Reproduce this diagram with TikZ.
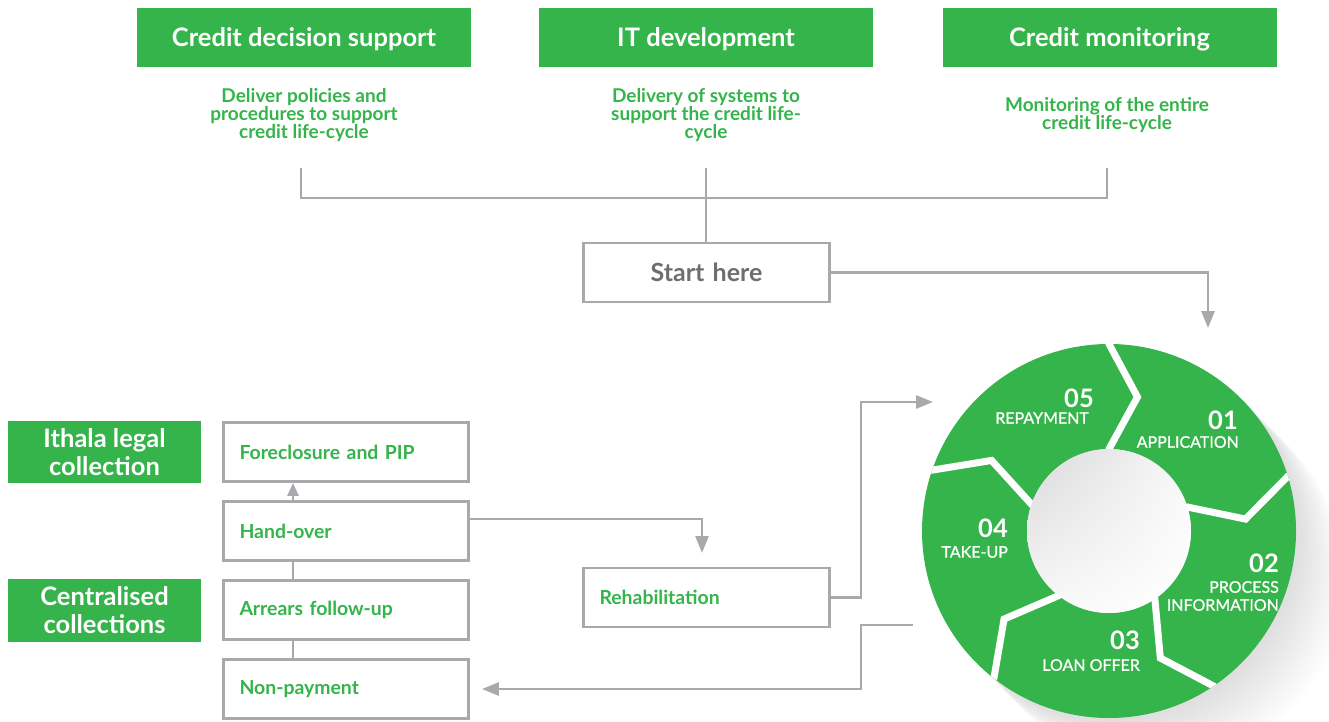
\documentclass[tikz,border=0pt]{standalone}
\usepackage{fontspec}
\setmainfont{Lato}
\newfontfamily\latomedium[FakeBold=0.8]{Lato}
\usetikzlibrary{arrows.meta,calc,shadings}
\definecolor{ithgreen}{RGB}{52,180,74}
\definecolor{linegray}{RGB}{167,169,172}
\definecolor{textgray}{RGB}{109,110,113}

\begin{document}
\begin{tikzpicture}[x=1pt,y=-1pt,
  greenbox/.style={fill=ithgreen, text=white, inner sep=0pt, align=center,
    font=\bfseries\fontsize{25.5}{28}\selectfont},
  headbox/.style={greenbox, minimum width=334pt, minimum height=59pt, text depth=0pt},
  sidebox/.style={greenbox, minimum width=193pt, minimum height=62pt},
  subtext/.style={text=ithgreen, align=center, inner sep=0pt,
    font=\bfseries\fontsize{19}{18.3}\selectfont},
  stagebox/.style={draw=linegray, line width=2.8pt, fill=white,
    minimum width=245pt, minimum height=59pt, inner xsep=16pt, inner ysep=0pt,
    text width=213pt, align=left, text=ithgreen,
    font=\bfseries\fontsize{19.4}{22}\selectfont},
  startbox/.style={stagebox, minimum width=246pt, text width=214pt, align=center,
    text=textgray, text depth=0pt, font=\bfseries\fontsize{25}{28}\selectfont},
  conn/.style={draw=linegray, line width=2.8pt},
  arr/.style={conn, -{Triangle[length=17pt,width=13pt]}},
  smallarr/.style={conn, -{Triangle[length=13pt,width=11pt]}},
  num/.style={text=white, inner sep=0pt, anchor=east,
    font=\bfseries\fontsize{25.5}{28}\selectfont},
  lab/.style={text=white, inner sep=0pt, anchor=east, align=right,
    font=\latomedium\fontsize{16}{18}\selectfont},
]
\useasboundingbox (0,0) rectangle (1329,721);

% ---- top: three functions ----
\node[headbox] (cds) at (304,37.5) {Credit decision support};
\node[headbox] (itd) at (706,37.5) {IT development};
\node[headbox] (cmo) at (1109.5,37.5) {Credit monitoring};

\node[subtext] (sub1) at (304,115) {Deliver policies and\\procedures to support\\credit life-cycle};
\node[subtext] (sub2) at (706,115) {Delivery of systems to\\support the credit life-\\cycle};
\node[subtext] (sub3) at (1107,115) {Monitoring of the entire\\credit life-cycle};

\node[startbox] (start) at (706.5,272.5) {Start here};

\coordinate (t1) at (301,168);
\coordinate (t2) at (706,168);
\coordinate (t3) at (1107,168);
\coordinate (tj) at (706,198);
\draw[conn] (t1) |- (tj) -| (t3);
\draw[conn] (t2) -- (t2 |- start.north);

% ---- credit life-cycle ring ----
\begin{scope}[shift={(1109,531)}, yscale=-1]
  % soft cast shadow
  \foreach \k in {1,...,16}
    \fill[black, opacity=0.009] (3*\k,-3*\k) circle (187);
  \fill[ithgreen, even odd rule] (0,0) circle (187) (0,0) circle (82);
  \begin{scope}
    \clip (0,0) circle (187);
    \foreach \a in {90,17,-56,-128,161}
      \draw[white, line width=7pt, line join=miter]
        (\a:205) -- (\a:187) -- (\a-12:137) -- (\a:82) -- (\a:65);
  \end{scope}
\end{scope}
\shade[upper left=gray!30, upper right=gray!5, lower left=gray!5, lower right=white]
  (1109,531) circle (82);

\node[num] (n05) at (1094,398) {05};
\node[lab] (l05) at (1089,418) {REPAYMENT};
\node[num] (n01) at (1238,420) {01};
\node[lab] (l01) at (1239,442) {APPLICATION};
\node[num] (n02) at (1279,563) {02};
\node[lab] (l02) at (1279,596) {PROCESS\\INFORMATION};
\node[num] (n03) at (1140,640) {03};
\node[lab] (l03) at (1140,665) {LOAN OFFER};
\node[num] (n04) at (1008,528) {04};
\node[lab] (l04) at (1008,552) {TAKE-UP};

\coordinate (ringin) at (1208,328);
\coordinate (ringleft) at (933,402);
\coordinate (ringlow) at (913,625);
\coordinate (spine) at (861,500);
\draw[arr] (start.east) -| (ringin);

% ---- collections ----
\node[sidebox] (legal) at (104.5,452) {Ithala legal\\collection};
\node[sidebox, minimum height=63pt] (central) at (104.5,610) {Centralised\\collections};

\node[stagebox] (fore) at (346,452) {Foreclosure and PIP};
\node[stagebox] (hand) at (346,531) {Hand-over};
\node[stagebox] (arrears) at (346,610) {Arrears follow-up};
\node[stagebox] (nonpay) at (346,689) {Non-payment};
\node[stagebox, minimum width=246pt, text width=214pt] (rehab) at (706.5,597.5) {Rehabilitation};

\coordinate (stem) at (293,0);
\coordinate (rehabin) at (702,553);
\draw[smallarr] (hand.north -| stem) -- (fore.south -| stem);
\draw[conn] (hand.south -| stem) -- (arrears.north -| stem);
\draw[conn] (arrears.south -| stem) -- (nonpay.north -| stem);
\draw[arr] ($(hand.east)+(0,-12)$) -| (rehabin);
\draw[arr] (rehab.east) -- (rehab.east -| spine) |- (ringleft);
\draw[arr, shorten >=12pt] (ringlow) -- (ringlow -| spine) |- (nonpay.east);
\end{tikzpicture}
\end{document}
